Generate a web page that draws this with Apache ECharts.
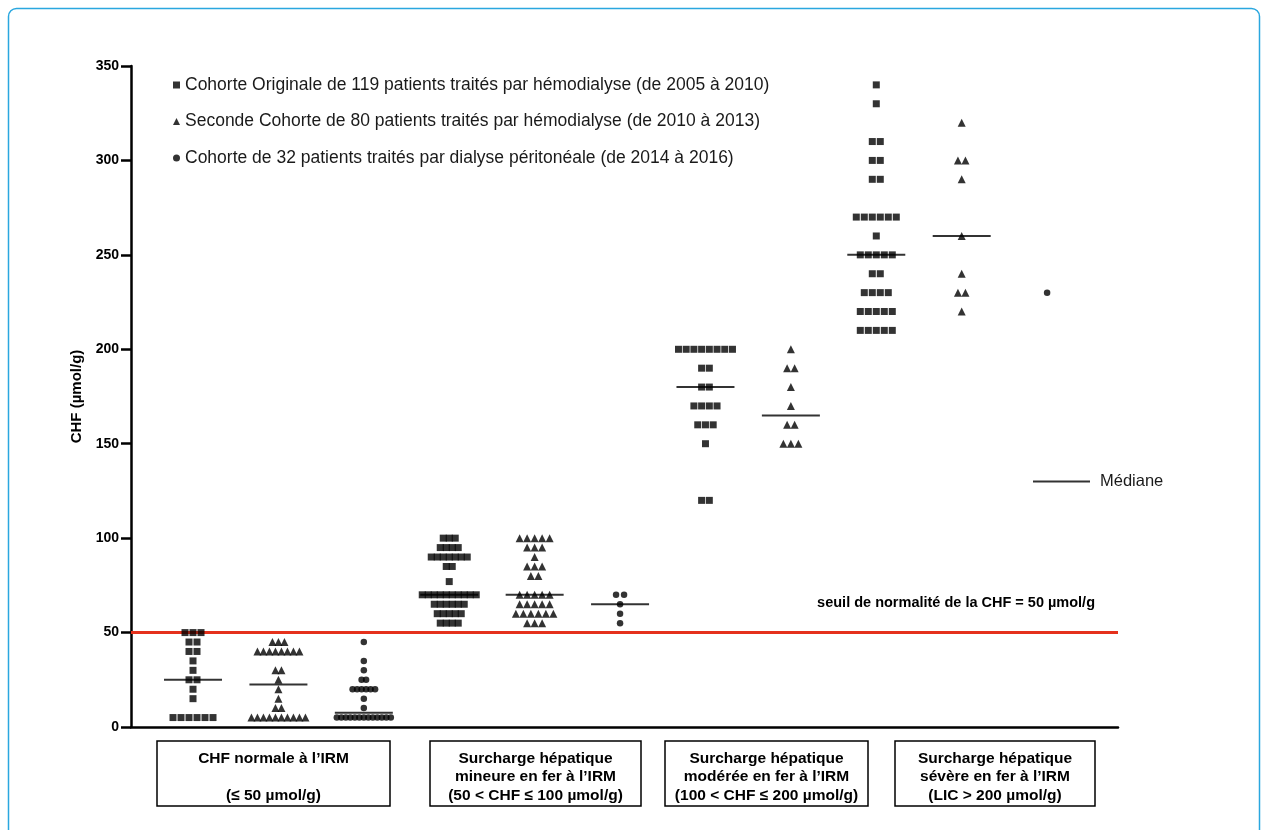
<!DOCTYPE html>
<html>
<head>
<meta charset="utf-8">
<script src="https://cdn.jsdelivr.net/npm/echarts@6/dist/echarts.min.js"></script>
<style>
  html, body { margin: 0; padding: 0; background: #ffffff; }
  #chart { width: 1264px; height: 830px; }
</style>
</head>
<body>
<div id="chart"></div>
<script>
// Concentration hépatique en fer (CHF, µmol/g) mesurée à l'IRM, un point par patient.

const yTicks = [0, 50, 100, 150, 200, 250, 300, 350];
const threshold = 50;
const thresholdLabel = 'seuil de normalité de la CHF = 50 µmol/g';
const medianName = 'Médiane';
const yAxisName = 'CHF (µmol/g)';

const cohortNames = [
  'Cohorte Originale de 119 patients traités par hémodialyse (de 2005 à 2010)',
  'Seconde Cohorte de 80 patients traités par hémodialyse (de 2010 à 2013)',
  'Cohorte de 32 patients traités par dialyse péritonéale (de 2014 à 2016)'
];

const classLabels = [
  'CHF normale à l’IRM\n\n(≤ 50 µmol/g)',
  'Surcharge hépatique\nmineure en fer à l’IRM\n(50 < CHF ≤ 100 µmol/g)',
  'Surcharge hépatique\nmodérée en fer à l’IRM\n(100 < CHF ≤ 200 µmol/g)',
  'Surcharge hépatique\nsévère en fer à l’IRM\n(LIC > 200 µmol/g)'
];

// Cohorte originale, hémodialyse 2005-2010
const hdOrigNormal = [50, 50, 50, 45, 45, 40, 40, 35, 30, 25, 25, 20, 15, 5, 5, 5, 5, 5, 5];
const hdOrigMinor = [100, 100, 100, 95, 95, 95, 95, 90, 90, 90, 90, 90, 90, 90, 85, 85, 77,
  70, 70, 70, 70, 70, 70, 70, 70, 70, 70, 65, 65, 65, 65, 65, 65, 60, 60, 60, 60, 60, 55, 55, 55, 55];
const hdOrigModerate = [200, 200, 200, 200, 200, 200, 200, 200, 190, 190, 180, 180,
  170, 170, 170, 170, 160, 160, 160, 150, 120, 120];
const hdOrigSevere = [340, 330, 310, 310, 300, 300, 290, 290, 270, 270, 270, 270, 270, 270, 260,
  250, 250, 250, 250, 250, 240, 240, 230, 230, 230, 230, 220, 220, 220, 220, 220,
  210, 210, 210, 210, 210];

// Seconde cohorte, hémodialyse 2010-2013
const hd2Normal = [45, 45, 45, 40, 40, 40, 40, 40, 40, 40, 40, 30, 30, 25, 20, 15, 10, 10,
  5, 5, 5, 5, 5, 5, 5, 5, 5, 5];
const hd2Minor = [100, 100, 100, 100, 100, 95, 95, 95, 90, 85, 85, 85, 80, 80,
  70, 70, 70, 70, 70, 65, 65, 65, 65, 65, 60, 60, 60, 60, 60, 60, 55, 55, 55];
const hd2Moderate = [200, 190, 190, 180, 170, 160, 160, 150, 150, 150];
const hd2Severe = [320, 300, 300, 290, 260, 240, 230, 230, 220];

// Dialyse péritonéale 2014-2016
const dpNormal = [45, 35, 30, 25, 25, 20, 20, 20, 20, 20, 20, 15, 10,
  5, 5, 5, 5, 5, 5, 5, 5, 5, 5, 5, 5, 5];
const dpMinor = [70, 70, 65, 60, 55];
const dpSevere = [230];

// Columns left to right: [values, cohort index]
const columns = [
  [hdOrigNormal, 0], [hd2Normal, 1], [dpNormal, 2],
  [hdOrigMinor, 0], [hd2Minor, 1], [dpMinor, 2],
  [hdOrigModerate, 0], [hd2Moderate, 1],
  [hdOrigSevere, 0], [hd2Severe, 1], [dpSevere, 2]
];

const symbols = ['rect', 'triangle', 'circle'];
const symbolSizes = [7, 8, 6.5];
const maxPitch = [8, 7.5, 8];
const FONT = '"Liberation Sans", Arial, Helvetica, sans-serif';

function median(arr) {
  const s = arr.slice().sort((a, b) => a - b);
  const m = Math.floor(s.length / 2);
  return s.length % 2 ? s[m] : (s[m - 1] + s[m]) / 2;
}

// Spread equal values horizontally (dot-plot layout), centred on the column
const cohortData = [[], [], []];
const medianData = [];
columns.forEach(([values, cohort], idx) => {
  const slot = idx + 1;
  const counts = {};
  values.forEach(v => { counts[v] = (counts[v] || 0) + 1; });
  const widest = Math.max(...Object.values(counts));
  const pitch = widest > 1 ? Math.min(maxPitch[cohort], 54 / (widest - 1)) : 0;
  Object.keys(counts).forEach(k => {
    const n = counts[k];
    for (let j = 0; j < n; j++) {
      cohortData[cohort].push({
        value: [slot, Number(k)],
        symbolOffset: [(j - (n - 1) / 2) * pitch, 0]
      });
    }
  });
  if (values.length > 1) medianData.push([slot, median(values)]);
});

const chart = echarts.init(document.getElementById('chart'), null, { renderer: 'canvas' });

const series = cohortNames.map((name, i) => ({
  name: name,
  type: 'scatter',
  symbol: symbols[i],
  symbolSize: symbolSizes[i],
  itemStyle: { color: '#000000' },
  emphasis: { disabled: true },
  data: cohortData[i],
  z: 3
}));

series.push({
  name: medianName,
  type: 'scatter',
  symbol: 'rect',
  symbolSize: [58, 2],
  itemStyle: { color: '#000000' },
  emphasis: { disabled: true },
  data: medianData,
  z: 4,
  markLine: {
    silent: true,
    symbol: 'none',
    label: { show: false },
    lineStyle: { color: '#e5311c', width: 3, type: 'solid' },
    data: [{ yAxis: threshold }],
    z: 2
  }
});

// Boxes under the x-axis with the overload class descriptions
const boxes = [
  { x: 157, w: 233 },
  { x: 430, w: 211 },
  { x: 665, w: 203 },
  { x: 895, w: 200 }
];
const graphic = [
  {
    type: 'rect', left: 6, top: 6, silent: true,
    shape: { width: 1251, height: 840, r: 8 },
    style: { fill: 'none', stroke: '#2aa7df', lineWidth: 1.5 }
  },
  {
    type: 'text', silent: true, x: 1095, y: 603,
    style: {
      text: thresholdLabel, align: 'right', verticalAlign: 'middle',
      font: 'bold 14.5px ' + FONT, fill: '#000000'
    }
  }
];
boxes.forEach((b, i) => {
  graphic.push({
    type: 'rect', silent: true,
    shape: { x: b.x, y: 741, width: b.w, height: 65 },
    style: { fill: '#ffffff', stroke: '#000000', lineWidth: 1.5 }
  });
  graphic.push({
    type: 'text', silent: true, x: b.x + b.w / 2, y: 777,
    style: {
      text: classLabels[i], align: 'center', verticalAlign: 'middle',
      font: 'bold 15.5px ' + FONT, lineHeight: 18.5, fill: '#000000'
    }
  });
});

chart.setOption({
  animation: false,
  backgroundColor: '#ffffff',
  textStyle: { fontFamily: FONT },
  grid: { left: 131, right: 146, top: 66, bottom: 103, containLabel: false },
  legend: [
    {
      orient: 'vertical', left: 173, top: 75.5, padding: 0,
      itemWidth: 7, itemHeight: 7, itemGap: 17.5,
      selectedMode: false,
      data: cohortNames.map((n, i) => ({ name: n, icon: symbols[i] })),
      textStyle: { fontSize: 17.5, color: '#1a1a1a', fontFamily: FONT, lineHeight: 19 }
    },
    {
      orient: 'vertical', left: 1033, top: 473, padding: 0,
      itemWidth: 57, itemHeight: 2,
      selectedMode: false,
      data: [{ name: medianName, icon: 'rect' }],
      textStyle: { fontSize: 16.5, color: '#1a1a1a', fontFamily: FONT, padding: [0, 0, 0, 5] }
    }
  ],
  xAxis: {
    type: 'value', min: 0.274, max: 11.83,
    axisLine: { show: true, onZero: false, lineStyle: { color: '#000000', width: 2.5 } },
    axisTick: { show: false },
    axisLabel: { show: false },
    splitLine: { show: false }
  },
  yAxis: {
    type: 'value', min: yTicks[0], max: yTicks[yTicks.length - 1], interval: 50,
    name: yAxisName, nameLocation: 'middle', nameGap: 46, nameRotate: 90,
    nameTextStyle: { fontWeight: 'bold', fontSize: 15, color: '#000000', fontFamily: FONT },
    axisLine: { show: true, lineStyle: { color: '#000000', width: 2.5 } },
    axisTick: { show: true, length: 10, lineStyle: { color: '#000000', width: 2.5 } },
    axisLabel: { fontWeight: 'bold', fontSize: 14, color: '#000000', margin: 12, fontFamily: FONT },
    splitLine: { show: false }
  },
  graphic: graphic,
  series: series
});
</script>
</body>
</html>
